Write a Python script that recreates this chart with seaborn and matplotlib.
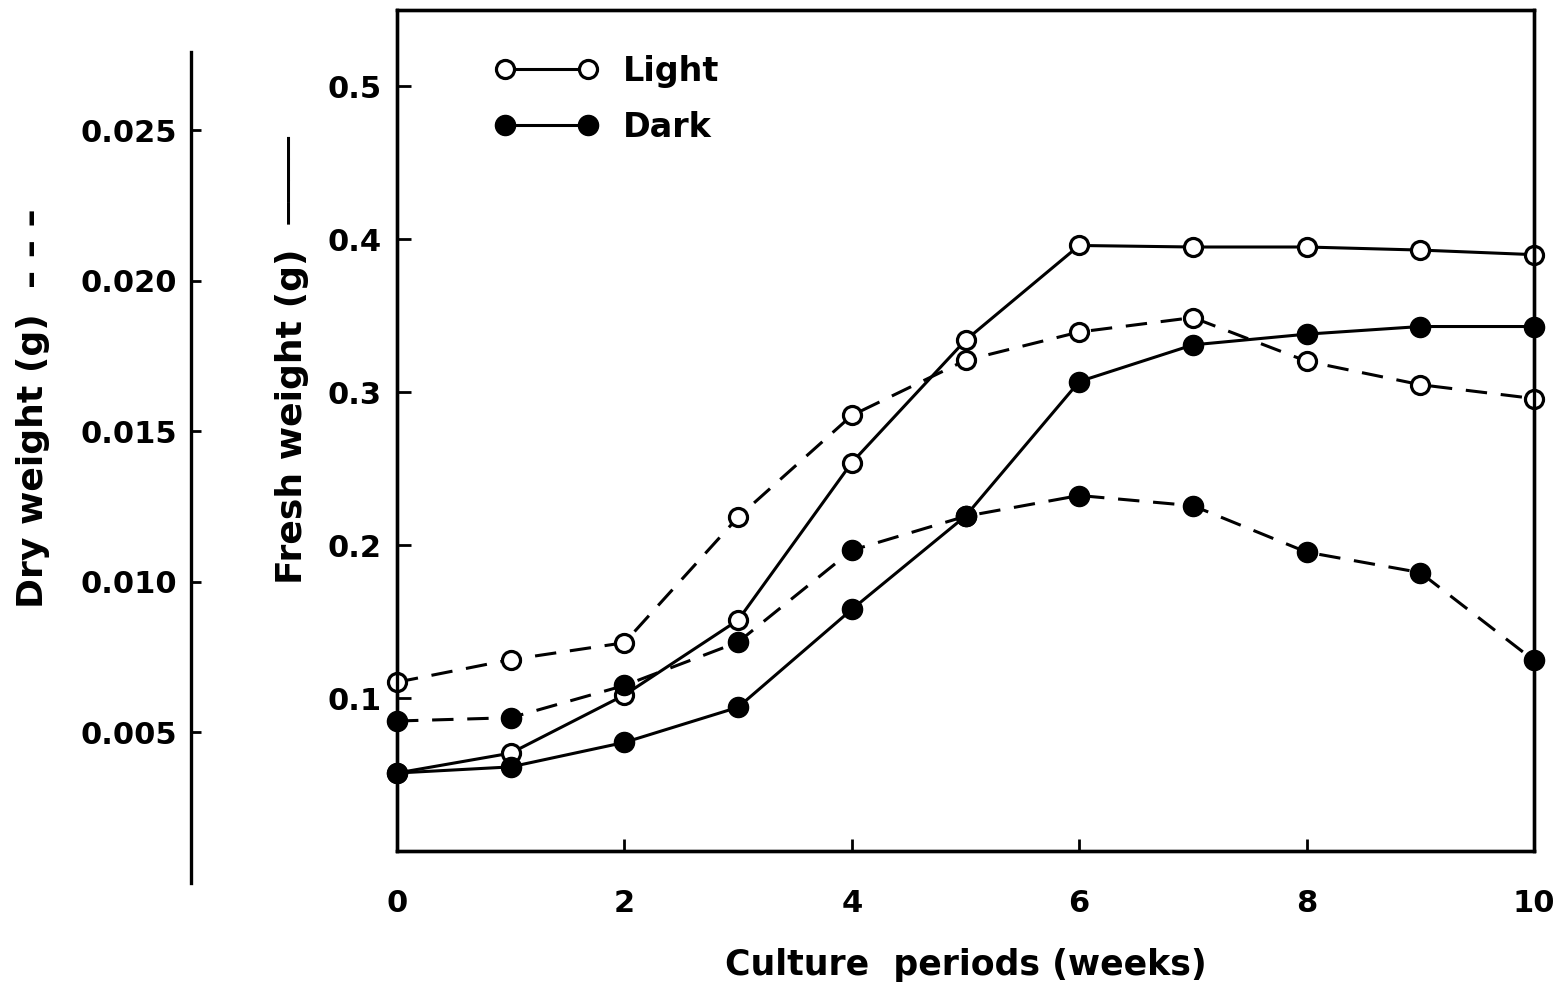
import matplotlib
matplotlib.use("Agg")
import matplotlib.pyplot as plt
import seaborn as sns

# Culture period in weeks
weeks = [0, 1, 2, 3, 4, 5, 6, 7, 8, 9, 10]

# Fresh weight (g), solid lines
fresh_light = [0.051, 0.064, 0.102, 0.151, 0.254, 0.334, 0.396, 0.395, 0.395, 0.393, 0.390]
fresh_dark = [0.051, 0.055, 0.071, 0.094, 0.158, 0.219, 0.307, 0.331, 0.338, 0.343, 0.343]

# Dry weight (g), dashed lines
dry_light = [0.00667, 0.00742, 0.00798, 0.01215, 0.01553, 0.01736, 0.01830, 0.01878, 0.01733, 0.01655, 0.01609]
dry_dark = [0.00538, 0.00549, 0.00656, 0.00800, 0.01105, 0.01218, 0.01287, 0.01253, 0.01099, 0.01031, 0.00739]

x_ticks = [0, 2, 4, 6, 8, 10]
fresh_ticks = [0.1, 0.2, 0.3, 0.4, 0.5]
dry_ticks = [0.005, 0.010, 0.015, 0.020, 0.025]
series_labels = ["Light", "Dark"]

sns.set_style("ticks")
plt.rcParams["font.family"] = ["DejaVu Sans"]
plt.rcParams["font.weight"] = "bold"
for key in ("text.color", "axes.labelcolor", "xtick.color", "ytick.color", "axes.edgecolor"):
    plt.rcParams[key] = "black"

W, H = 1558, 983
fig = plt.figure(figsize=(W / 100, H / 100), dpi=100)

main_box = [397 / W, (H - 851) / H, (1534 - 397) / W, (851 - 10) / H]
dry_box = [191 / W, (H - 883) / H, 2 / W, (883 - 52) / H]
fresh_lim = (0.0, 0.55)
dry_lim = (0.0, 0.0276)

ax = fig.add_axes(main_box)
ax_dry_scale = fig.add_axes(dry_box)
ax_dry = fig.add_axes(main_box, sharex=ax)
ax_dry.patch.set_visible(False)

# dry-weight limits for the overlay axes so it lines up with the separate dry scale
per_fig = (dry_lim[1] - dry_lim[0]) / dry_box[3]
dry_lo = dry_lim[0] + (main_box[1] - dry_box[1]) * per_fig
dry_hi = dry_lo + main_box[3] * per_fig

lw = 2.2
common = dict(color="black", lw=lw, marker="o", mec="black", clip_on=False, errorbar=None)
open_kw = dict(ms=13, mfc="white", mew=2.3)
fill_kw = dict(ms=14.5, mfc="black", mew=1)
dash = (0, (7, 4.5))

sns.lineplot(x=weeks, y=fresh_light, ax=ax, label=series_labels[0], **common, **open_kw)
sns.lineplot(x=weeks, y=fresh_dark, ax=ax, label=series_labels[1], **common, **fill_kw)
sns.lineplot(x=weeks, y=dry_light, ax=ax_dry, ls=dash, **common, **open_kw)
sns.lineplot(x=weeks, y=dry_dark, ax=ax_dry, ls=dash, **common, **fill_kw)

ax.set_xlim(0, 10)
ax.set_ylim(*fresh_lim)
ax_dry.set_ylim(dry_lo, dry_hi)

for a in (ax, ax_dry):
    for s in a.spines.values():
        s.set_visible(True)
        s.set_linewidth(2.4)
        s.set_color("black")
ax_dry.tick_params(left=False, bottom=False, labelleft=False, labelbottom=False)
ax_dry.set_xlabel("")
ax_dry.set_ylabel("")
if ax_dry.get_legend():
    ax_dry.get_legend().remove()

ax.set_xticks(x_ticks)
ax.set_xticklabels([str(t) for t in x_ticks])
ax.set_yticks(fresh_ticks)
ax.set_yticklabels([f"{t:.1f}" for t in fresh_ticks])
ax.tick_params(axis="x", direction="in", length=9, width=2, labelsize=22, pad=27, colors="black")
ax.tick_params(axis="y", direction="in", length=10, width=2, labelsize=22, pad=11, colors="black")
ax.set_xlabel("Culture  periods (weeks)", fontsize=25, fontweight="bold", labelpad=22, color="black")
ax.set_ylabel("")

# dry weight scale
ax_dry_scale.set_ylim(*dry_lim)
ax_dry_scale.set_yticks(dry_ticks)
ax_dry_scale.set_yticklabels([f"{t:.3f}" for t in dry_ticks])
ax_dry_scale.set_xticks([])
ax_dry_scale.patch.set_visible(False)
for side in ("top", "right", "bottom"):
    ax_dry_scale.spines[side].set_visible(False)
ax_dry_scale.spines["left"].set_linewidth(2.4)
ax_dry_scale.spines["left"].set_color("black")
ax_dry_scale.tick_params(axis="y", direction="in", length=7, width=2, labelsize=22, pad=10, colors="black")

fig.text(292 / W, 1 - 360 / H, "Fresh weight (g)  ────", rotation=90, ha="center", va="center",
         fontsize=26, fontweight="bold", color="black")
fig.text(33 / W, 1 - 408 / H, "Dry weight (g)  – – –", rotation=90, ha="center", va="center",
         fontsize=26, fontweight="bold", color="black")

handles = ax.get_lines()[:2]
leg = ax.legend(handles=handles, labels=series_labels, loc="upper left",
                bbox_to_anchor=(0.086, 0.947), frameon=False, numpoints=2,
                handlelength=3.1, handletextpad=0.75, labelspacing=0.7,
                borderpad=0, borderaxespad=0, prop={"size": 24, "weight": "bold"})
for t in leg.get_texts():
    t.set_color("black")

fig.savefig("out.png", dpi=100, facecolor="white")
